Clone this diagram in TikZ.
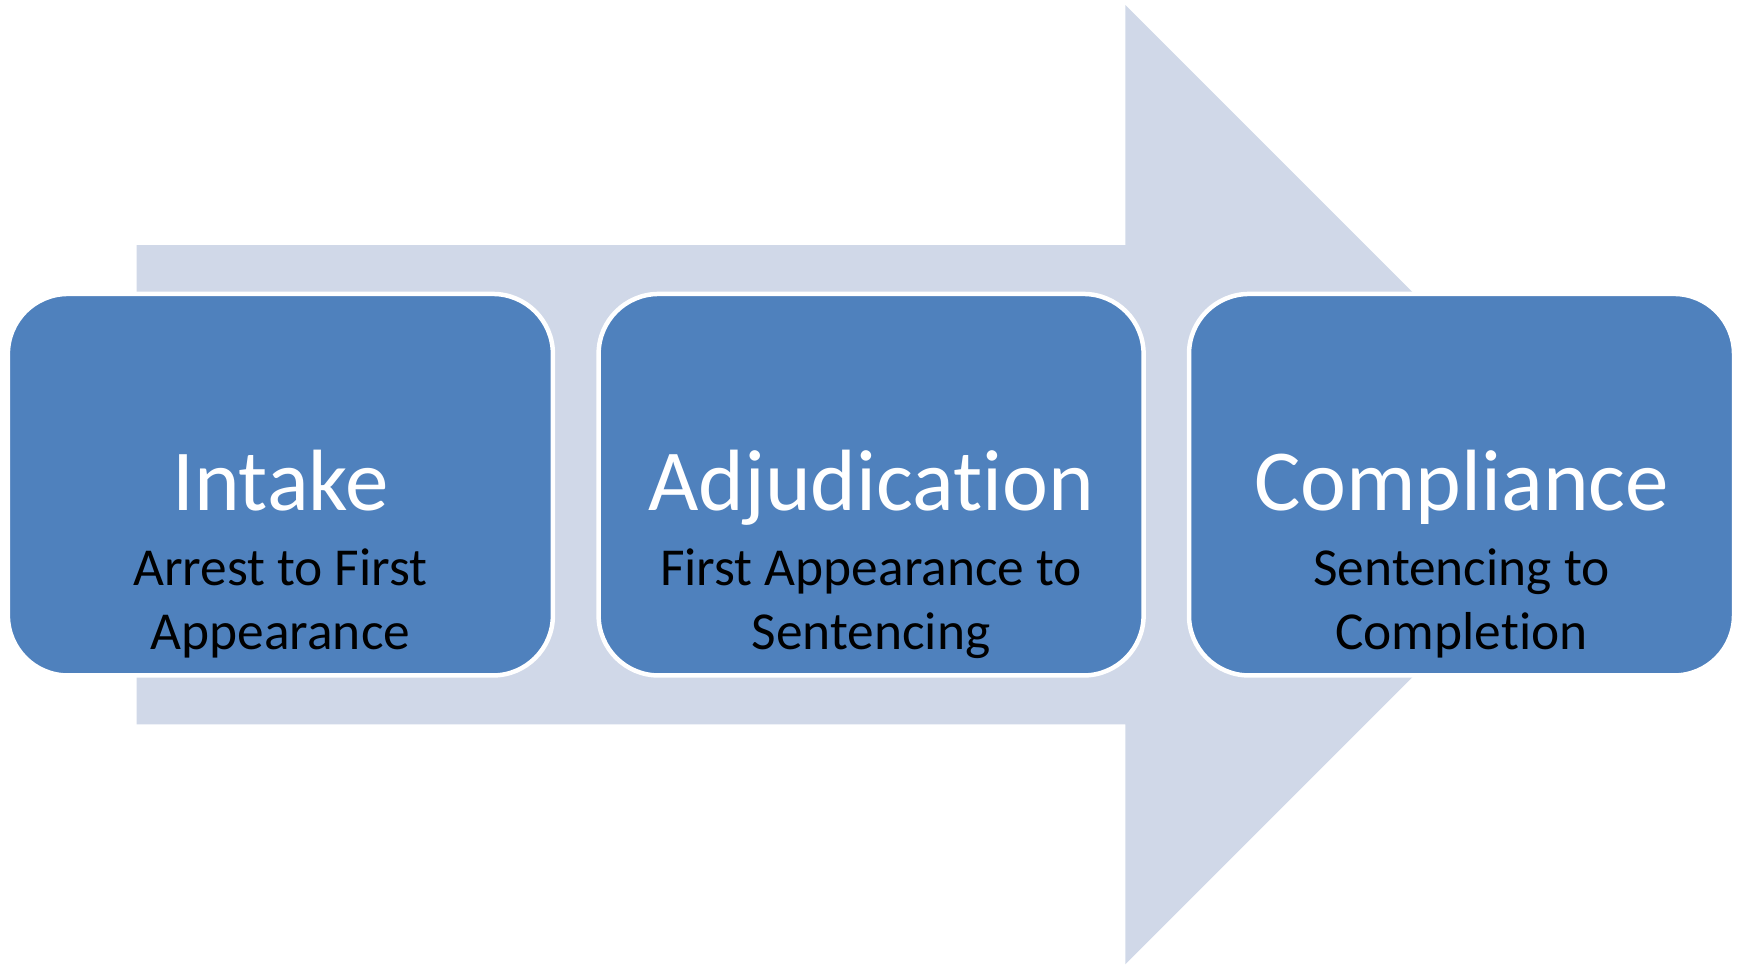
\documentclass[tikz,border=0pt]{standalone}
\usepackage{fontspec}
\setmainfont{Carlito}[Ligatures=NoCommon]
\definecolor{boxblue}{HTML}{4F81BD}
\definecolor{arrowc}{HTML}{D0D8E8}
\begin{document}
\begin{tikzpicture}[x=1pt,y=-1pt,
  stage/.style={draw=white, line width=4.5pt, fill=boxblue, rounded corners=60pt,
    minimum width=545pt, minimum height=381.5pt, inner sep=0pt},
  title/.style={text=white, inner sep=0pt, anchor=base, font=\fontsize{87}{100}\selectfont},
  sub/.style={text=black, inner sep=0pt, anchor=base, font=\fontsize{53.4}{64}\selectfont}]
\useasboundingbox (0,0) rectangle (1743,964);
\fill[arrowc] (136.7,245) -- (1125.3,245) -- (1125.3,5) -- (1605,484.7)
  -- (1125.3,964.4) -- (1125.3,724.4) -- (136.7,724.4) -- cycle;
\node[stage] (b1) at (280.4,484.7) {};
\node[stage] (b2) at (871.1,484.7) {};
\node[stage] (b3) at (1461.5,484.7) {};
\foreach \b/\t/\la/\lb in {b1/Intake/Arrest to First/Appearance,
  b2/Adjudication/First Appearance to/Sentencing,
  b3/Compliance/Sentencing to/Completion}{
  \node[title] (\b t) at ([yshift=-25.3pt]\b.center) {\t};
  \node[sub] (\b s1) at ([yshift=-100.3pt]\b.center) {\la};
  \node[sub] (\b s2) at ([yshift=-164.8pt]\b.center) {\lb};
}
\end{tikzpicture}
\end{document}
